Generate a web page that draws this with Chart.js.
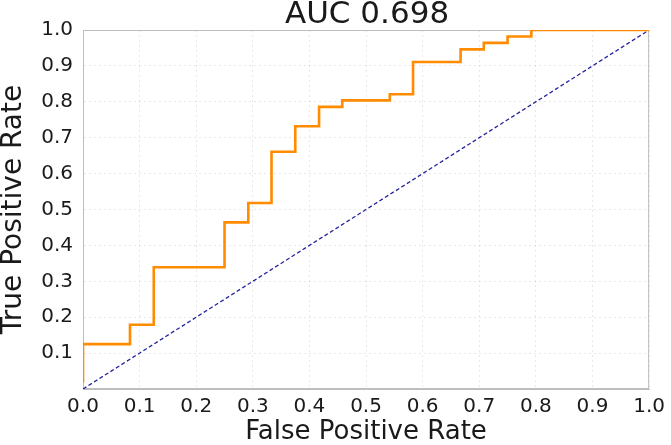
<!DOCTYPE html>
<html>
<head>
<meta charset="utf-8">
<script src="https://cdn.jsdelivr.net/npm/chart.js@4"></script>
<style>
  html, body { margin: 0; padding: 0; background: #fff; }
  #wrap { width: 671px; height: 445px; }
</style>
</head>
<body>
<div id="wrap"><canvas id="roc"></canvas></div>
<script>
// ROC curve corners
const fpr = [0, 0, 0.083, 0.083, 0.125, 0.125, 0.25, 0.25, 0.292, 0.292, 0.333, 0.333,
  0.375, 0.375, 0.417, 0.417, 0.458, 0.458, 0.542, 0.542, 0.583, 0.583, 0.667, 0.667,
  0.708, 0.708, 0.75, 0.75, 0.792, 0.792, 1.0];
const tpr = [0.018, 0.125, 0.125, 0.179, 0.179, 0.339, 0.339, 0.464, 0.464, 0.518, 0.518, 0.661,
  0.661, 0.732, 0.732, 0.786, 0.786, 0.804, 0.804, 0.821, 0.821, 0.911, 0.911, 0.946,
  0.946, 0.964, 0.964, 0.982, 0.982, 1.0, 1.0];
const chanceX = [0, 1];
const chanceY = [0, 1];
const titleText = 'AUC 0.698';

const font = 'DejaVu Sans';

// frame round the plot + title centred on the plot area
const framePlugin = {
  id: 'frame',
  beforeDatasetsDraw(chart) {
    const { ctx, chartArea: a } = chart;
    ctx.save();
    ctx.strokeStyle = '#bdbdbd';
    ctx.lineWidth = 1;
    ctx.strokeRect(a.left + 0.5, a.top + 0.5, a.right - a.left - 1, a.bottom - a.top - 1);
    ctx.restore();
  },
  afterDraw(chart) {
    const { ctx, chartArea: a } = chart;
    ctx.save();
    ctx.fillStyle = '#1a1a1a';
    ctx.font = '31px "' + font + '"';
    ctx.textAlign = 'center';
    ctx.textBaseline = 'middle';
    ctx.fillText(titleText, (a.left + a.right) / 2 + 1, 15);
    ctx.restore();
  }
};

new Chart(document.getElementById('roc'), {
  type: 'scatter',
  data: {
    datasets: [
      {
        data: fpr.map((x, i) => ({ x, y: tpr[i] })),
        showLine: true,
        borderColor: '#ff8c00',
        borderWidth: 2.6,
        pointRadius: 0,
        fill: false,
        tension: 0
      },
      {
        data: chanceX.map((x, i) => ({ x, y: chanceY[i] })),
        showLine: true,
        borderColor: '#2323a0',
        borderWidth: 1.3,
        borderDash: [4, 2.5],
        pointRadius: 0,
        fill: false
      }
    ]
  },
  options: {
    responsive: true,
    maintainAspectRatio: false,
    animation: false,
    layout: { padding: { top: 30, right: 17, left: 0, bottom: 0 } },
    plugins: {
      legend: { display: false },
      tooltip: { enabled: false },
      title: { display: false }
    },
    scales: {
      x: {
        type: 'linear',
        min: 0, max: 1,
        afterFit: s => { s.height = 56; },
        ticks: {
          stepSize: 0.1,
          padding: 6,
          color: '#1a1a1a',
          font: { family: font, size: 20 },
          callback: v => v.toFixed(1)
        },
        grid: { color: 'rgba(0,0,0,0.09)', drawTicks: false },
        border: { color: '#bdbdbd', dash: [2, 3] },
        title: {
          display: true,
          text: 'False Positive Rate',
          color: '#1a1a1a',
          font: { family: font, size: 26, lineHeight: 1 },
          padding: 0
        }
      },
      y: {
        min: 0, max: 1,
        afterFit: s => { s.width = 83; },
        ticks: {
          stepSize: 0.1,
          padding: 10,
          color: '#1a1a1a',
          font: { family: font, size: 20 },
          callback: v => (v < 0.05 ? '' : v.toFixed(1))
        },
        grid: { color: 'rgba(0,0,0,0.09)', drawTicks: false },
        border: { color: '#bdbdbd', dash: [2, 3] },
        title: {
          display: true,
          text: 'True Positive Rate',
          color: '#1a1a1a',
          font: { family: font, size: 28, lineHeight: 1 },
          padding: 0
        }
      }
    }
  },
  plugins: [framePlugin]
});
</script>
</body>
</html>
